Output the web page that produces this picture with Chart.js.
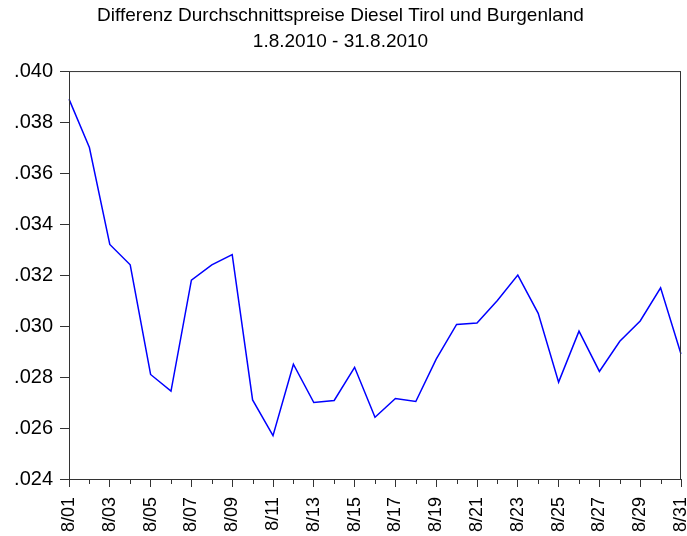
<!DOCTYPE html>
<html>
<head>
<meta charset="utf-8">
<script src="https://cdn.jsdelivr.net/npm/chart.js@4"></script>
<style>
  body { margin: 0; background: #fff; }
  canvas { display: block; }
</style>
</head>
<body>
<canvas id="graphique-diesel" width="687" height="536"></canvas>
<script>
const jours = ['8/01', '8/02', '8/03', '8/04', '8/05', '8/06', '8/07', '8/08', '8/09', '8/10',
    '8/11', '8/12', '8/13', '8/14', '8/15', '8/16', '8/17', '8/18', '8/19', '8/20',
    '8/21', '8/22', '8/23', '8/24', '8/25', '8/26', '8/27', '8/28', '8/29', '8/30', '8/31'];
const differenz = [0.0389, 0.0370, 0.0332, 0.0324, 0.0281, 0.02745, 0.0318, 0.0324, 0.0328, 0.0271,
    0.02570, 0.0285, 0.0270, 0.02708, 0.02838, 0.02642, 0.02716, 0.02704, 0.0287, 0.03006,
    0.03012, 0.0310, 0.0320, 0.0305, 0.0278, 0.0298, 0.02822, 0.02940, 0.0302, 0.0315, 0.0289];
const titre = ['Differenz Durchschnittspreise Diesel Tirol und Burgenland', '1.8.2010 - 31.8.2010'];
const yMin = 0.024;
const yMax = 0.040;
const yPas = 0.002;

const police = 'Liberation Sans, Arial, sans-serif';
const couleurAxe = '#333';

// cadre autour de la zone du graphique + petits traits pour les jours pairs
const cadre = {
    id: 'cadre',
    afterDatasetsDraw(chart) {
        const { ctx, chartArea, scales } = chart;
        ctx.save();
        ctx.strokeStyle = couleurAxe;
        ctx.lineWidth = 1;
        ctx.strokeRect(chartArea.left + 0.5, chartArea.top + 0.5,
            chartArea.right - chartArea.left - 1, chartArea.bottom - chartArea.top);
        ctx.beginPath();
        jours.forEach((j, i) => {
            if (i % 2 === 1) {
                const x = Math.round(scales.x.getPixelForValue(i)) + 0.5;
                ctx.moveTo(x, chartArea.bottom);
                ctx.lineTo(x, chartArea.bottom + 5);
            }
        });
        ctx.stroke();
        ctx.restore();
    }
};

const graphique = document.getElementById('graphique-diesel');

new Chart(graphique, {
    type: 'line',
    data: {
        labels: jours,
        datasets: [{
            label: 'Differenz',
            data: differenz,
            borderColor: '#0000ff',
            borderWidth: 1.5,
            pointRadius: 0,
            tension: 0,
            fill: false
        }]
    },
    options: {
        responsive: false,
        animation: false,
        devicePixelRatio: 1,
        layout: {
            padding: { top: 0, right: 6, bottom: 0, left: 0 }
        },
        plugins: {
            legend: { display: false },
            tooltip: { enabled: false },
            title: {
                display: true,
                text: titre,
                color: '#000',
                font: { family: police, size: 19, weight: 'normal', lineHeight: 1.37 },
                padding: { top: 3, bottom: 16 }
            }
        },
        scales: {
            x: {
                type: 'category',
                offset: false,
                border: { display: false },
                grid: {
                    drawOnChartArea: false,
                    drawTicks: true,
                    tickLength: 8,
                    tickColor: (c) => (c.index % 2 === 0 ? couleurAxe : 'rgba(0,0,0,0)')
                },
                ticks: {
                    autoSkip: false,
                    minRotation: 90,
                    maxRotation: 90,
                    padding: 10,
                    color: '#000',
                    font: { family: police, size: 18 },
                    callback: function (value, index) {
                        return index % 2 === 0 ? jours[index] : '';
                    }
                },
                afterFit(scale) {
                    scale.height = 57;
                    scale.paddingLeft = 0;
                    scale.paddingRight = 0;
                }
            },
            y: {
                min: yMin,
                max: yMax,
                border: { display: false },
                grid: {
                    drawOnChartArea: false,
                    drawTicks: true,
                    tickLength: 9,
                    tickColor: couleurAxe
                },
                ticks: {
                    stepSize: yPas,
                    padding: 7,
                    color: '#000',
                    font: { family: police, size: 20 },
                    callback: (v) => v.toFixed(3).replace(/^0/, '')
                },
                afterFit(scale) {
                    scale.width = 69;
                    scale.paddingTop = 0;
                    scale.paddingBottom = 0;
                }
            }
        }
    },
    plugins: [cadre]
});
</script>
</body>
</html>
